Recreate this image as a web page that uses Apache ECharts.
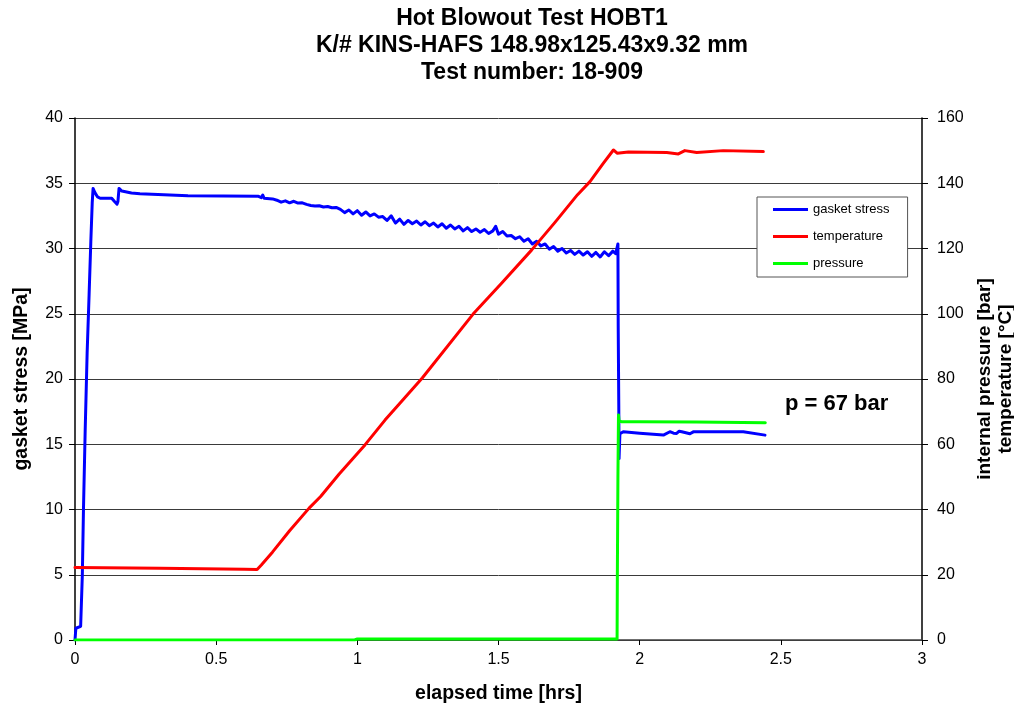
<!DOCTYPE html>
<html>
<head>
<meta charset="utf-8">
<script src="https://cdn.jsdelivr.net/npm/echarts@6/dist/echarts.min.js"></script>
<style>
  html, body { margin: 0; padding: 0; background: #ffffff; }
  #chart { width: 1014px; height: 709px; }
</style>
</head>
<body>
<div id="chart"></div>
<script>
// Hot blowout test HOBT1 – gasket stress, temperature and internal pressure vs. elapsed time

// gasket stress [MPa] (left axis)
const stressTime = [
  0, 0.003, 0.008, 0.02, 0.022, 0.026, 0.03, 0.036, 0.043, 0.05, 0.056, 0.061, 0.064,
  0.07, 0.08, 0.089, 0.13, 0.14, 0.149, 0.152, 0.156, 0.166, 0.20, 0.23, 0.40, 0.65,
  0.66, 0.665, 0.67, 0.70, 0.715, 0.73, 0.745, 0.76, 0.775, 0.79, 0.805, 0.82, 0.835,
  0.85, 0.865, 0.88, 0.895, 0.91, 0.925, 0.94, 0.955, 0.97, 0.985, 1.00, 1.015, 1.03,
  1.045, 1.06, 1.075, 1.09, 1.105, 1.12, 1.135, 1.15, 1.165, 1.18, 1.195, 1.21, 1.225,
  1.24, 1.255, 1.27, 1.285, 1.30, 1.315, 1.33, 1.345, 1.36, 1.375, 1.39, 1.405, 1.42,
  1.435, 1.45, 1.465, 1.48, 1.49, 1.50, 1.515, 1.53, 1.545, 1.56, 1.575, 1.59, 1.605,
  1.62, 1.635, 1.65, 1.665, 1.68, 1.695, 1.71, 1.725, 1.74, 1.755, 1.77, 1.785, 1.80,
  1.815, 1.83, 1.845, 1.86, 1.875, 1.89, 1.905, 1.915, 1.923, 1.924, 1.926, 1.927,
  1.930, 1.942, 2.00, 2.084, 2.107, 2.12, 2.131, 2.14, 2.149, 2.16, 2.178, 2.19, 2.202,
  2.30, 2.367, 2.444
];
const stressValue = [
  0, 0.9, 1.0, 1.05, 1.1, 5, 10, 16, 22, 26.5, 30.5, 33.5, 34.6,
  34.3, 33.95, 33.85, 33.85, 33.6, 33.4, 33.6, 34.6, 34.4, 34.25, 34.2, 34.05, 34.0,
  33.9, 34.1, 33.85, 33.8, 33.7, 33.55, 33.65, 33.5, 33.62, 33.48, 33.5, 33.38, 33.3,
  33.25, 33.28, 33.18, 33.22, 33.12, 33.15, 33.0, 32.75, 32.95, 32.65, 32.9, 32.55, 32.8,
  32.5, 32.65, 32.4, 32.45, 32.15, 32.5, 31.95, 32.25, 31.85, 32.15, 31.9, 32.1, 31.8,
  32.05, 31.75, 31.95, 31.65, 31.9, 31.55, 31.8, 31.5, 31.7, 31.35, 31.6, 31.3, 31.5,
  31.25, 31.45, 31.15, 31.35, 31.7, 31.1, 31.3, 30.95, 31.0, 30.75, 30.9, 30.55, 30.75,
  30.35, 30.55, 30.2, 30.35, 29.95, 30.15, 29.8, 30.0, 29.65, 29.85, 29.55, 29.8, 29.5,
  29.75, 29.4, 29.7, 29.35, 29.75, 29.45, 29.8, 29.6, 30.35, 24, 18, 13.9,
  15.8, 15.96, 15.85, 15.7, 15.96, 15.85, 15.83, 16.0, 15.96, 15.9, 15.8, 15.95, 15.96,
  15.96, 15.96, 15.7
];

// temperature [°C] (right axis)
const tempTime = [
  0, 0.3, 0.6, 0.645, 0.66, 0.70, 0.76, 0.83, 0.87, 0.935, 1.027, 1.098, 1.15, 1.23,
  1.41, 1.51, 1.617, 1.70, 1.78, 1.824, 1.871, 1.907, 1.92, 1.96, 2.096, 2.137, 2.16,
  2.202, 2.296, 2.438
];
const tempValue = [
  22.2, 22.0, 21.7, 21.6, 23.0, 27.0, 33.5, 40.5, 44.0, 50.8, 59.8, 67.4, 72.5, 80.3,
  99.9, 109.3, 119.5, 128, 136.5, 140.5, 146.1, 150.2, 149.2, 149.6, 149.4, 149.0, 150.0,
  149.4, 150.0, 149.7
];

// internal pressure [bar] (right axis)
const pressTime = [0, 0.99, 1.0, 1.92, 1.921, 1.923, 1.925, 1.927, 1.935, 2.0, 2.2, 2.445];
const pressValue = [0, 0, 0.3, 0.3, 20, 50, 69, 67.2, 66.9, 66.9, 66.8, 66.6];

const xTicks = { min: 0, max: 3, step: 0.5 };
const leftTicks = { min: 0, max: 40, step: 5 };
const rightTicks = { min: 0, max: 160, step: 20 };

const pairs = (xs, ys) => xs.map((x, i) => [x, ys[i]]);

const FONT = 'Liberation Sans, Arial, sans-serif';
const chart = echarts.init(document.getElementById('chart'), null, { renderer: 'canvas' });

const lineStyle = (color) => ({ color: color, width: 3, cap: 'round', join: 'round' });

chart.setOption({
  animation: false,
  backgroundColor: '#ffffff',
  title: {
    text: 'Hot Blowout Test HOBT1\nK/# KINS-HAFS 148.98x125.43x9.32 mm\nTest number: 18-909',
    left: 527,
    top: 0,
    textAlign: 'center',
    textStyle: { fontFamily: FONT, fontSize: 23, fontWeight: 'bold', color: '#000', lineHeight: 27 }
  },
  grid: { left: 75, right: 92, top: 118, bottom: 69, containLabel: false, outerBoundsMode: 'none' },
  legend: {
    orient: 'vertical',
    left: 757,
    top: 197,
    padding: [6, 18, 7, 16],
    itemGap: 14,
    itemWidth: 35,
    itemHeight: 3,
    icon: 'rect',
    backgroundColor: '#ffffff',
    borderColor: '#555555',
    borderWidth: 1,
    borderRadius: 0,
    textStyle: { fontFamily: FONT, fontSize: 13, color: '#000' },
    data: ['gasket stress', 'temperature', 'pressure']
  },
  xAxis: {
    type: 'value',
    min: xTicks.min, max: xTicks.max, interval: xTicks.step,
    name: 'elapsed time [hrs]',
    nameLocation: 'middle',
    nameGap: 44,
    nameTextStyle: { fontFamily: FONT, fontSize: 19.5, fontWeight: 'bold', color: '#000' },
    axisLine: { lineStyle: { color: '#404040', width: 1.5 } },
    axisTick: { show: true, length: 5, lineStyle: { color: '#000' } },
    axisLabel: { fontFamily: FONT, fontSize: 16, color: '#000', margin: 12 },
    splitLine: { show: false }
  },
  yAxis: [
    {
      type: 'value',
      position: 'left',
      min: leftTicks.min, max: leftTicks.max, interval: leftTicks.step,
      name: 'gasket stress [MPa]',
      nameLocation: 'middle',
      nameGap: 43,
      nameTextStyle: { fontFamily: FONT, fontSize: 19.5, fontWeight: 'bold', color: '#000' },
      axisLine: { show: true, lineStyle: { color: '#000', width: 1.5 } },
      axisTick: { show: true, length: 6, lineStyle: { color: '#000' } },
      axisLabel: { fontFamily: FONT, fontSize: 16, color: '#000', margin: 12 },
      splitLine: { show: true, lineStyle: { color: '#3a3a3a', width: 1 } }
    },
    {
      type: 'value',
      position: 'right',
      min: rightTicks.min, max: rightTicks.max, interval: rightTicks.step,
      name: 'internal pressure [bar]\ntemperature [°C]',
      nameLocation: 'middle',
      nameGap: 48,
      nameRotate: 90,
      nameTextStyle: { fontFamily: FONT, fontSize: 19, fontWeight: 'bold', color: '#000', lineHeight: 21 },
      axisLine: { show: true, lineStyle: { color: '#000', width: 1.5 } },
      axisTick: { show: true, length: 6, lineStyle: { color: '#000' } },
      axisLabel: { fontFamily: FONT, fontSize: 16, color: '#000', margin: 15 },
      splitLine: { show: false }
    }
  ],
  series: [
    {
      name: 'gasket stress', type: 'line', yAxisIndex: 0,
      data: pairs(stressTime, stressValue),
      showSymbol: false, symbol: 'none',
      lineStyle: lineStyle('#0000ff'), itemStyle: { color: '#0000ff' }
    },
    {
      name: 'temperature', type: 'line', yAxisIndex: 1,
      data: pairs(tempTime, tempValue),
      showSymbol: false, symbol: 'none',
      lineStyle: lineStyle('#ff0000'), itemStyle: { color: '#ff0000' }
    },
    {
      name: 'pressure', type: 'line', yAxisIndex: 1,
      data: pairs(pressTime, pressValue),
      showSymbol: false, symbol: 'none',
      lineStyle: lineStyle('#00ff00'), itemStyle: { color: '#00ff00' }
    }
  ],
  graphic: [
    {
      type: 'text',
      left: 785,
      top: 393,
      style: { text: 'p = 67 bar', font: 'bold 22px ' + FONT, fill: '#000' }
    }
  ]
});
</script>
</body>
</html>
